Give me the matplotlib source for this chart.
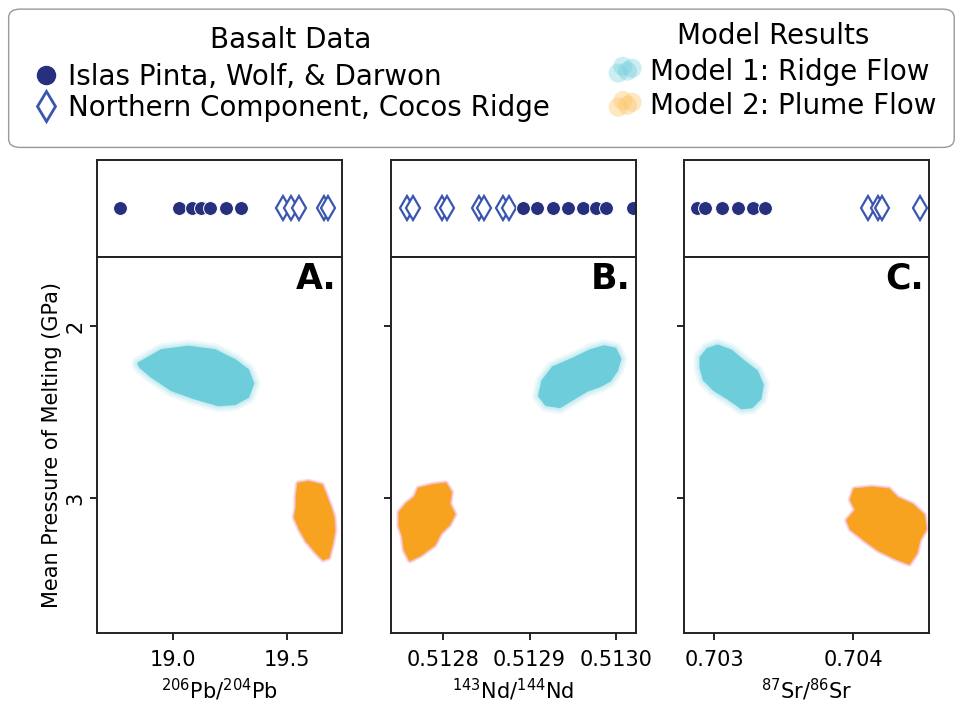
import numpy as np
import matplotlib.pyplot as plt
from matplotlib.patches import Polygon, FancyBboxPatch
from matplotlib.lines import Line2D

# basalt data: Islas Pinta, Wolf & Darwin (filled) and northern Cocos Ridge (open)
pb_islas = [18.768, 19.026, 19.083, 19.123, 19.162, 19.232, 19.298]
pb_cocos = [19.482, 19.518, 19.553, 19.662, 19.680]
nd_islas = [0.512892, 0.512909, 0.512927, 0.512944, 0.512962, 0.512977, 0.512988, 0.513020]
nd_cocos = [0.512759, 0.512765, 0.512799, 0.512805, 0.512842, 0.512847, 0.512869, 0.512876]
sr_islas = [0.702878, 0.702935, 0.703058, 0.703173, 0.703281, 0.703367]
sr_cocos = [0.704108, 0.704180, 0.704209, 0.704482]

# model result envelopes (isotope ratio, mean melting pressure in GPa)
pb_ridge_x = [18.848, 18.950, 19.067, 19.184, 19.272, 19.330, 19.352, 19.330, 19.272, 19.199, 19.096, 18.994, 18.907, 18.855]
pb_ridge_p = [2.217, 2.140, 2.120, 2.140, 2.198, 2.256, 2.333, 2.411, 2.453, 2.459, 2.420, 2.372, 2.295, 2.237]
pb_plume_x = [19.550, 19.593, 19.652, 19.667, 19.689, 19.703, 19.707, 19.696, 19.681, 19.659, 19.623, 19.586, 19.557, 19.535, 19.543, 19.543]
pb_plume_p = [2.915, 2.905, 2.924, 2.973, 3.051, 3.109, 3.186, 3.263, 3.341, 3.351, 3.302, 3.244, 3.176, 3.109, 3.051, 2.992]

nd_ridge_x = [0.512915, 0.512927, 0.512950, 0.512970, 0.512986, 0.512999, 0.513005, 0.513001, 0.512993, 0.512982, 0.512966, 0.512950, 0.512935, 0.512919, 0.512911]
nd_ridge_p = [2.317, 2.239, 2.190, 2.141, 2.118, 2.131, 2.190, 2.258, 2.317, 2.347, 2.376, 2.425, 2.470, 2.458, 2.405]
nd_plume_x = [0.512772, 0.512788, 0.512803, 0.512809, 0.512807, 0.512813, 0.512807, 0.512797, 0.512790, 0.512774, 0.512762, 0.512756, 0.512754, 0.512750, 0.512750, 0.512758, 0.512768]
nd_plume_p = [2.944, 2.924, 2.915, 2.964, 3.033, 3.091, 3.150, 3.199, 3.267, 3.326, 3.356, 3.297, 3.219, 3.160, 3.081, 3.033, 2.993]

sr_ridge_x = [0.702903, 0.702953, 0.703026, 0.703124, 0.703211, 0.703309, 0.703351, 0.703334, 0.703272, 0.703199, 0.703100, 0.703001, 0.702927, 0.702903]
sr_ridge_p = [2.183, 2.133, 2.113, 2.142, 2.202, 2.262, 2.341, 2.421, 2.471, 2.477, 2.421, 2.372, 2.312, 2.242]
sr_plume_x = [0.704011, 0.704134, 0.704257, 0.704318, 0.704429, 0.704508, 0.704522, 0.704478, 0.704454, 0.704404, 0.704306, 0.704183, 0.704097, 0.703986, 0.703961, 0.704023, 0.703986]
sr_plume_p = [2.948, 2.938, 2.948, 2.998, 3.038, 3.097, 3.177, 3.237, 3.316, 3.376, 3.346, 3.297, 3.247, 3.177, 3.127, 3.067, 3.008]

panels = [
    dict(islas=pb_islas, cocos=pb_cocos, ridge=(pb_ridge_x, pb_ridge_p), plume=(pb_plume_x, pb_plume_p),
         xlim=(18.667, 19.741), ticks=[19.0, 19.5], ticklabels=['19.0', '19.5'],
         xlabel=r'$^{206}$Pb/$^{204}$Pb', tag='A.'),
    dict(islas=nd_islas, cocos=nd_cocos, ridge=(nd_ridge_x, nd_ridge_p), plume=(nd_plume_x, nd_plume_p),
         xlim=(0.512740, 0.513023), ticks=[0.5128, 0.5129, 0.5130], ticklabels=['0.5128', '0.5129', '0.5130'],
         xlabel=r'$^{143}$Nd/$^{144}$Nd', tag='B.'),
    dict(islas=sr_islas, cocos=sr_cocos, ridge=(sr_ridge_x, sr_ridge_p), plume=(sr_plume_x, sr_plume_p),
         xlim=(0.702784, 0.704547), ticks=[0.703, 0.704], ticklabels=['0.703', '0.704'],
         xlabel=r'$^{87}$Sr/$^{86}$Sr', tag='C.'),
]

NAVY = '#27307f'
BLUE = '#3a55b0'
CYAN = '#6dcddb'
ORANGE = '#f8a31f'
PINK = '#f3a0a8'


def draw_cloud(ax, xs, ys, core, halo, widths, alpha):
    pts = np.column_stack([xs, ys])
    for w in widths:
        ax.add_patch(Polygon(pts, closed=True, facecolor='none', edgecolor=halo,
                             lw=w, alpha=alpha, joinstyle='round', zorder=1))
    ax.add_patch(Polygon(pts, closed=True, facecolor=core, edgecolor=core,
                         lw=1.5, joinstyle='round', zorder=2))


fig = plt.figure(figsize=(9.6, 7.02), dpi=100)

lefts = [0.1010, 0.4073, 0.7125]
width = 0.2552
for i, (p, left) in enumerate(zip(panels, lefts)):
    top = fig.add_axes([left, 0.6339, width, 0.1382])
    main = fig.add_axes([left, 0.0983, width, 0.5356])

    # basalt samples along the strip
    top.plot(p['cocos'], np.zeros(len(p['cocos'])), ls='none', marker='d', ms=12.5,
             mfc='white', mec=BLUE, mew=1.6)
    top.plot(p['islas'], np.zeros(len(p['islas'])), ls='none', marker='o', ms=10,
             mfc=NAVY, mec='white', mew=0.7)
    top.set_xlim(p['xlim'])
    top.set_ylim(-1, 1)
    top.set_xticks([])
    top.set_yticks([])

    # model clouds
    draw_cloud(main, *p['ridge'], CYAN, CYAN, [10, 7, 5, 3], 0.11)
    draw_cloud(main, *p['plume'], ORANGE, PINK, [5, 3.5, 2.5], 0.35)
    main.set_xlim(p['xlim'])
    main.set_ylim(3.78, 1.60)
    main.set_xticks(p['ticks'])
    main.set_xticklabels(p['ticklabels'])
    main.set_yticks([2, 3])
    if i == 0:
        main.set_yticklabels(['2', '3'], rotation=90, va='center')
        main.set_ylabel('Mean Pressure of Melting (GPa)', fontsize=15, labelpad=2)
    else:
        main.set_yticklabels([])
    main.tick_params(labelsize=15, length=5, width=1.2)
    main.tick_params(axis='x', pad=7)
    main.set_xlabel(p['xlabel'], fontsize=15, labelpad=5)
    main.text(0.978, 0.987, p['tag'], transform=main.transAxes, ha='right', va='top',
              fontsize=25, fontweight='bold')

    for a in (top, main):
        for s in a.spines.values():
            s.set_linewidth(1.4)
            s.set_color('#222222')

# legend frame around both groups
fig.patches.append(FancyBboxPatch((0.009, 0.790), 0.985, 0.197, boxstyle='round,pad=0,rounding_size=0.012',
                                  transform=fig.transFigure, facecolor='white', edgecolor='#999999', lw=1.0))

basalt_handles = [
    Line2D([], [], ls='none', marker='o', ms=13, mfc=NAVY, mec=NAVY),
    Line2D([], [], ls='none', marker='d', ms=15, mfc='white', mec=BLUE, mew=2),
]
# model handles: a small cluster of translucent dots
cloud_ax = fig.add_axes([0, 0, 0.01, 0.01])
cloud_ax.set_visible(False)
ridge_h = cloud_ax.scatter([0, 0, 0, 0], [0, 0, 0, 0], s=190, color=CYAN, alpha=0.35, lw=0)
plume_h = cloud_ax.scatter([0, 0, 0, 0], [0, 0, 0, 0], s=190, color='#fcc66a', alpha=0.4, lw=0)

leg1 = fig.legend(basalt_handles, ['Islas Pinta, Wolf, & Darwon', 'Northern Component, Cocos Ridge'],
                  loc='upper left', bbox_to_anchor=(0.013, 0.99), frameon=False, fontsize=20,
                  title='Basalt Data', title_fontsize=20, handletextpad=0.3, labelspacing=0.1,
                  handlelength=1.0, borderpad=0.2)
leg1._legend_box.sep = 6
leg2 = fig.legend([ridge_h, plume_h], ['Model 1: Ridge Flow', 'Model 2: Plume Flow'],
                  loc='upper left', bbox_to_anchor=(0.615, 0.997), frameon=False, fontsize=20,
                  title='Model Results', title_fontsize=20, handletextpad=0.35, labelspacing=0.22,
                  handlelength=1.1, borderpad=0.2, scatterpoints=4,
                  scatteryoffsets=[0.35, 0.7, 0.45, 0.6])
leg2._legend_box.sep = 6

fig.savefig('out.png', dpi=100)
